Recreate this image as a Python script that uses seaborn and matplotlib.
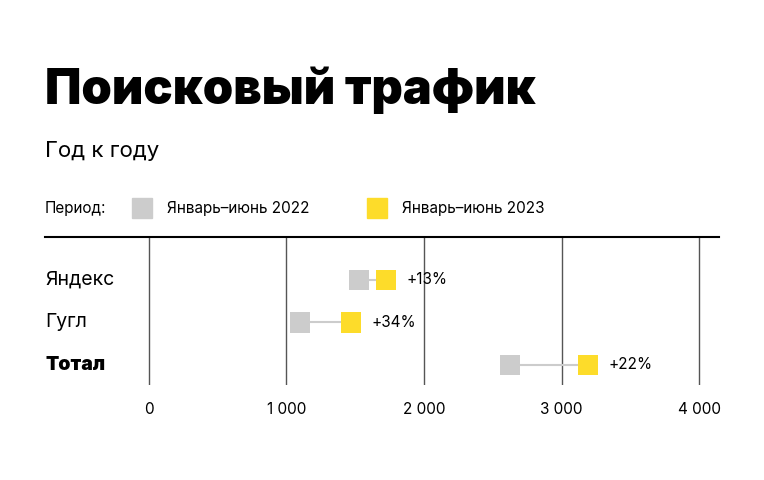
import matplotlib
matplotlib.use("Agg")
import matplotlib.pyplot as plt
import seaborn as sns
import pandas as pd
from matplotlib.ticker import FuncFormatter

categories = ["Яндекс", "Гугл", "Тотал"]
values_2022 = [1527, 1098, 2625]
values_2023 = [1724, 1469, 3193]
changes = ["+13%", "+34%", "+22%"]
ticks = [0, 1000, 2000, 3000, 4000]

GREY = "#cccccc"
YELLOW = "#fddc2a"

sns.set_theme(style="white")
plt.rcParams['font.family'] = ['Inter', 'DejaVu Sans']
plt.rcParams['text.color'] = 'black'
plt.rcParams['xtick.color'] = 'black'

fig = plt.figure(figsize=(7.64, 4.8), dpi=100)
ax = fig.add_axes([45 / 764, 1 - 385 / 480, 674 / 764, 148 / 480])

df = pd.DataFrame({
    "cat": categories * 2,
    "pos": list(range(len(categories))) * 2,
    "val": values_2022 + values_2023,
    "year": ["2022"] * 3 + ["2023"] * 3,
})

for t in ticks:
    ax.axvline(t, color="#555555", lw=1, zorder=0)
for i in range(len(categories)):
    ax.plot([values_2022[i], values_2023[i]], [i, i], color=GREY, lw=1.5, zorder=1)

sns.scatterplot(data=df, x="val", y="pos", hue="year", palette=[GREY, YELLOW],
                marker="s", s=210, linewidth=0, legend=False, ax=ax, zorder=3)

for i, c in enumerate(changes):
    ax.text(values_2023[i] + 150, i, c, va="center", ha="left", fontsize=11)

for i, c in enumerate(categories):
    ax.text(0, i, c, transform=ax.get_yaxis_transform(), va="center", ha="left",
            fontsize=14, fontweight="black" if i == 2 else "normal")

ax.set_xlim(-756, 4145)
ax.set_ylim(2.473, -1.012)
ax.set_xticks(ticks)
ax.xaxis.set_major_formatter(FuncFormatter(lambda v, p: f"{int(v):,}".replace(",", " ")))
ax.tick_params(axis="x", length=0, labelsize=11, pad=12)
ax.set_yticks([])
ax.set_xlabel("")
ax.set_ylabel("")
for s in ["left", "right", "bottom"]:
    ax.spines[s].set_visible(False)
ax.spines["top"].set_color("black")
ax.spines["top"].set_linewidth(1.5)

fig.text(45 / 764, 1 - 90 / 480, "Поисковый трафик", fontsize=35, fontweight="black",
         va="center", ha="left")
fig.text(45 / 764, 1 - 151 / 480, "Год к году", fontsize=16, va="center", ha="left")
fig.text(45 / 764, 1 - 208 / 480, "Период:", fontsize=11, va="center", ha="left")
for x, col, lab in [(142, GREY, "Январь–июнь 2022"), (377, YELLOW, "Январь–июнь 2023")]:
    fig.patches.append(plt.Rectangle(((x - 10) / 764, 1 - 218 / 480), 20 / 764, 20 / 480,
                                     color=col, transform=fig.transFigure, figure=fig))
    fig.text((x + 25) / 764, 1 - 208 / 480, lab, fontsize=11, va="center", ha="left")

fig.savefig("out.png", dpi=100)
